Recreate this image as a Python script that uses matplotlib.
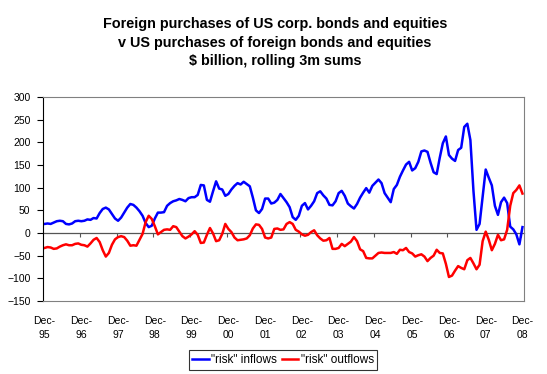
import numpy as np
import matplotlib
matplotlib.use("Agg")
import matplotlib.pyplot as plt

plt.rcParams["font.family"] = ["Liberation Sans", "DejaVu Sans"]

# monthly rolling 3m sums, $ billion, Dec-95 .. Dec-08
years = ["95", "96", "97", "98", "99", "00", "01", "02", "03", "04", "05", "06", "07", "08"]
tick_labels = ["Dec-\n" + y for y in years]

inflows = [
    20, 21, 20, 23, 26, 27, 26, 20, 19, 21, 26, 27, 26, 27, 30, 29, 33, 32, 44, 53,
    56, 52, 42, 32, 27, 34, 45, 56, 64, 62, 56, 48,
    38, 22, 13, 16, 32, 45, 45, 46, 60, 66, 70, 72, 75, 73, 70, 77, 79, 79, 84, 106,
    105, 73, 69, 92, 114, 98, 96, 82, 86, 96, 104,
    110, 107, 113, 108, 103, 78, 50, 44, 53, 76, 76, 65, 67, 73, 86, 77, 68, 57, 35, 29,
    38, 60, 66, 52, 60, 70, 88, 92, 83, 76, 62,
    61, 70, 88, 93, 82, 65, 59, 54, 64, 78, 89, 99, 89, 104, 111, 118, 110, 88, 78, 68,
    97, 106, 124, 138, 151, 157, 138, 143, 157, 180, 182,
    179, 155, 134, 130, 166, 198, 213, 172, 164, 159, 183, 188, 234, 241, 205, 93, 7, 20, 80, 140,
    122, 105, 60, 40, 68, 78, 66, 14, 8, -3, -25, 13,
]

outflows = [
    -33, -31, -32, -35, -34, -30, -27, -25, -27, -27, -24, -23, -26, -27, -30, -23, -15, -11, -20, -38,
    -52, -44, -26, -14, -9, -7, -9, -17, -28, -27, -28, -15,
    -2, 24, 38, 31, 15, -3, 2, 7, 8, 7, 15, 13, 3, -7, -12, -8, -3, 4, -4, -22,
    -21, -4, 11, -1, -18, -16, -2, 20, 9, 2, -10,
    -16, -15, -14, -12, -5, 10, 19, 18, 9, -10, -12, -10, 9, 10, 7, 8, 20, 24, 20, 7,
    3, -3, -6, -4, 2, 6, -5, -12, -17, -16, -11,
    -35, -35, -33, -24, -29, -24, -19, -9, -18, -36, -40, -55, -56, -56, -50, -44, -43, -44, -44, -44,
    -42, -46, -37, -38, -33, -42, -45, -52, -49, -47, -52,
    -62, -55, -50, -37, -44, -45, -68, -97, -94, -83, -73, -77, -80, -60, -55, -67, -80, -70, -18, 3,
    -15, -38, -24, -4, -16, -14, 7, 60, 88, 95, 105, 87,
]

months = np.arange(len(inflows))

fig = plt.figure(figsize=(5.47, 3.74), dpi=100)
ax = fig.add_axes([43 / 547, 1 - 301 / 374, (524 - 43) / 547, (301 - 97) / 374])

ax.plot(months, inflows, color="#0000FF", lw=1.8, label='"risk" inflows')
ax.plot(months, outflows, color="#FF0000", lw=1.8, label='"risk" outflows')

ax.set_xlim(-0.5, len(months) - 0.5)
ax.set_ylim(-150, 300)
ax.set_yticks(np.arange(-150, 301, 50))
ax.set_xticks(months[::12])
ax.set_xticklabels(tick_labels, linespacing=1.45)
ax.tick_params(axis="x", length=0, pad=11, labelsize=7.5)
ax.tick_params(axis="y", direction="out", length=4, width=0.8, pad=5, labelsize=7.5)
for side in ["top", "right", "bottom"]:
    ax.spines[side].set_color("#808080")
ax.spines["left"].set_color("black")

# category axis crossing at zero, ticks between years
zero = ax.secondary_xaxis(150 / 450)
zero.set_xticks(months[::12][1:] - 0.5)
zero.set_xticklabels([])
zero.tick_params(direction="out", length=3, width=0.8, color="#555555")
for side in ["top", "bottom"]:
    zero.spines[side].set_color("#555555")
    zero.spines[side].set_linewidth(0.9)

fig.text(275 / 547, 1 - 42.5 / 374,
         "Foreign purchases of US corp. bonds and equities\n"
         "v US purchases of foreign bonds and equities\n"
         "$ billion, rolling 3m sums",
         ha="center", va="center", fontsize=10.4, fontweight="bold", linespacing=1.38)

leg = fig.legend(loc="center", bbox_to_anchor=(283 / 547, 1 - 360 / 374), ncol=2,
                 frameon=True, fancybox=False, edgecolor="black", fontsize=8.5,
                 handlelength=1.4, columnspacing=0.4, handletextpad=0.2, borderpad=0.3)
leg.get_frame().set_linewidth(0.8)

fig.savefig("out.png", dpi=100)
